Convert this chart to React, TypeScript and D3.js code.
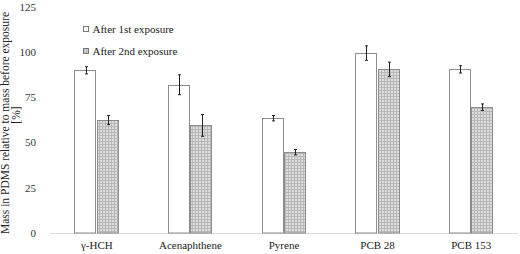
import React from "react";
import * as d3 from "d3";

const categories = ["γ-HCH", "Acenaphthene", "Pyrene", "PCB 28", "PCB 153"];
const series = ["After 1st exposure", "After 2nd exposure"];
const first = [90, 82, 63.5, 99.5, 90.5];
const firstErr = [2, 5.5, 1.5, 4, 2];
const second = [62.5, 59.5, 44.7, 90.5, 69.6];
const secondErr = [2.5, 6, 1.5, 4, 1.8];
const yTicks = [0, 25, 50, 75, 100, 125];

export default function App() {
  const W = 520, H = 254;
  const y = d3.scaleLinear().domain([0, 125]).range([233, 7]);
  const x = d3.scaleBand<string>().domain(categories).range([50, 518]).paddingInner(0.52).paddingOuter(0.26);
  const sub = d3.scaleBand<string>().domain(series).range([0, x.bandwidth()]);
  const font = "Liberation Serif, DejaVu Serif, serif";
  const data = [
    { vals: first, errs: firstErr, fill: "#ffffff" },
    { vals: second, errs: secondErr, fill: "url(#chk)" },
  ];
  return (
    <svg width={W} height={H} style={{ position: "absolute", left: 0, top: 0, fontFamily: font }}>
      <defs>
        <pattern id="chk" width="3" height="3" patternUnits="userSpaceOnUse">
          <rect width="3" height="3" fill="#dcdcdc" />
          <rect width="3" height="1" fill="#b8b8b8" />
          <rect width="1" height="3" fill="#b8b8b8" />
        </pattern>
      </defs>
      <rect width={W} height={H} fill="#fff" />
      <line x1={50} x2={518} y1={y(0) + 0.5} y2={y(0) + 0.5} stroke="#d9d9d9" strokeWidth={1} />
      {yTicks.map((t) => (
        <text key={t} x={36} y={y(t)} dy="0.35em" textAnchor="end" fontSize={11} fill="#333">
          {t}
        </text>
      ))}
      {categories.map((c, i) => (
        <g key={c}>
          {data.map((s, j) => {
            const bx = (x(c) as number) + (sub(series[j]) as number);
            const bw = sub.bandwidth();
            const v = s.vals[i];
            const e = s.errs[i];
            const cx = Math.round(bx + bw / 2) + 0.5;
            return (
              <g key={j}>
                <rect x={Math.round(bx) + 0.5} y={Math.round(y(v)) + 0.5} width={Math.round(bw) - 1} height={y(0) - Math.round(y(v)) - 0.5}
                  fill={s.fill} stroke="#8c8c8c" strokeWidth={1} />
                <line x1={cx} x2={cx} y1={y(v + e)} y2={y(v - e)} stroke="#222" strokeWidth={1} />
                <line x1={cx - 1.5} x2={cx + 1.5} y1={y(v + e)} y2={y(v + e)} stroke="#222" strokeWidth={1} />
                <line x1={cx - 1.5} x2={cx + 1.5} y1={y(v - e)} y2={y(v - e)} stroke="#222" strokeWidth={1} />
              </g>
            );
          })}
          <text x={(x(c) as number) + x.bandwidth() / 2} y={249} textAnchor="middle" fontSize={11} fill="#222">
            {c}
          </text>
        </g>
      ))}
      {series.map((s, j) => (
        <g key={s} transform={`translate(83.5, ${26.5 + j * 22})`}>
          <rect width={5} height={5} fill={j === 0 ? "#fff" : "url(#chk)"} stroke="#777" strokeWidth={1} />
          <text x={9} y={3} dy="0.35em" fontSize={11} fill="#222">{s}</text>
        </g>
      ))}
      <g transform="translate(0,123) rotate(-90)">
        <text x={0} y={9} textAnchor="middle" fontSize={11.5} fill="#222">
          Mass in PDMS relative to  mass before exposure
        </text>
        <text x={8} y={20} textAnchor="middle" fontSize={11.5} fill="#222">[%]</text>
      </g>
    </svg>
  );
}
